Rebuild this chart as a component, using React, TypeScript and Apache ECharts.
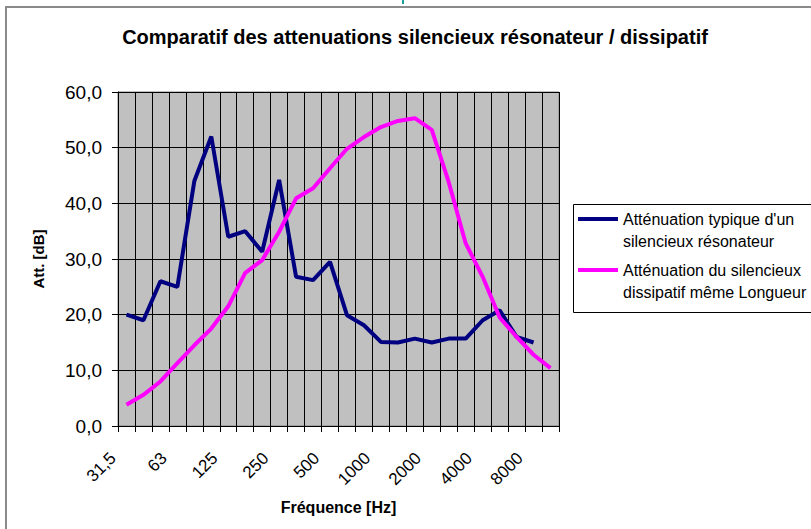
import React, { useEffect, useRef } from "react";
import * as echarts from "echarts";

const categories = [
  "31,5", "40", "50", "63", "80", "100", "125", "160", "200", "250", "315", "400", "500",
  "630", "800", "1000", "1250", "1600", "2000", "2500", "3150", "4000", "5000", "6300", "8000", "10000",
];
const resonateur = [
  20, 19, 26, 25, 44, 52, 34, 35, 31.3, 44.2, 26.8, 26.2, 29.5,
  19.9, 18.1, 15.1, 15, 15.7, 15, 15.7, 15.7, 19, 20.8, 16, 15, null,
];
const dissipatif = [
  3.8, 5.6, 8.0, 11.3, 14.5, 17.5, 21.5, 27.5, 29.8, 34.9, 40.9, 42.7, 46.3,
  49.8, 51.9, 53.7, 54.8, 55.3, 53.2, 43.8, 32.8, 26.8, 19.5, 16.0, 12.8, 10.4,
];
const seriesNames = [
  "Atténuation typique d'un\nsilencieux résonateur",
  "Atténuation du silencieux\ndissipatif même Longueur",
];
const titleText = "Comparatif des attenuations silencieux résonateur / dissipatif";

const FONT = "'Liberation Sans', Arial, sans-serif";

export default function App() {
  const ref = useRef<HTMLDivElement>(null);
  useEffect(() => {
    if (!ref.current) return;
    const chart = echarts.init(ref.current, null, { renderer: "svg" });
    chart.setOption({
      animation: false,
      backgroundColor: "#ffffff",
      title: {
        text: titleText,
        left: 415,
        textAlign: "center",
        top: 27,
        padding: 0,
        textStyle: { fontFamily: FONT, fontSize: 20, fontWeight: "bold", color: "#000" },
      },
      graphic: [
        {
          type: "rect",
          shape: { x: 6, y: 7, width: 820, height: 540 },
          style: { fill: "none", stroke: "#8a8a8a", lineWidth: 2 },
          silent: true,
        },
        {
          type: "rect",
          shape: { x: 402, y: 0, width: 2, height: 4 },
          style: { fill: "#1a9e9e" },
          silent: true,
        },
        {
          type: "rect",
          shape: { x: 573.5, y: 204.5, width: 250, height: 108 },
          style: { fill: "#ffffff", stroke: "#000", lineWidth: 1 },
          silent: true,
          z: 1,
        },
      ],
      legend: {
        orient: "vertical",
        left: 573,
        top: 182,
        padding: [4, 6, 10, 5],
        itemGap: -15,
        itemWidth: 40,
        itemHeight: 4,
        itemTextGap: 2,
        icon: "rect",
        z: 5,
        backgroundColor: "transparent",
        borderWidth: 0,
        formatter: (name: string) => "\n" + name,
        textStyle: {
          fontFamily: FONT,
          fontSize: 16,
          lineHeight: 22,
          color: "#000",
        },
        data: seriesNames,
      },
      grid: {
        left: 118,
        top: 92,
        width: 441,
        height: 334,
        show: true,
        backgroundColor: "#c0c0c0",
        borderColor: "#808080",
        borderWidth: 1,
      },
      xAxis: {
        type: "category",
        data: categories,
        boundaryGap: true,
        name: "Fréquence [Hz]",
        nameLocation: "middle",
        nameGap: 73,
        nameTextStyle: { fontFamily: FONT, fontSize: 16, fontWeight: "bold", color: "#000" },
        axisLine: { show: true, lineStyle: { color: "#000", width: 1 } },
        axisTick: { show: true, interval: 0, length: 6, inside: false, lineStyle: { color: "#000" } },
        axisLabel: {
          interval: 2,
          rotate: 45,
          margin: 16,
          padding: [0, 19, 0, 0],
          fontFamily: FONT,
          fontSize: 17,
          color: "#000",
        },
        splitLine: { show: true, interval: 0, lineStyle: { color: "#000", width: 1 } },
      },
      yAxis: {
        type: "value",
        min: 0,
        max: 60,
        interval: 10,
        name: "Att. [dB]",
        nameLocation: "middle",
        nameGap: 72,
        nameTextStyle: { fontFamily: FONT, fontSize: 15, fontWeight: "bold", color: "#000" },
        axisLine: { show: true, lineStyle: { color: "#000", width: 1 } },
        axisTick: { show: true, length: 6, inside: false, lineStyle: { color: "#000" } },
        axisLabel: {
          margin: 16,
          fontFamily: FONT,
          fontSize: 19,
          color: "#000",
          formatter: (v: number) => v.toFixed(1).replace(".", ","),
        },
        splitLine: { show: true, lineStyle: { color: "#000", width: 1 } },
      },
      series: [
        {
          name: seriesNames[0],
          type: "line",
          data: resonateur,
          symbol: "none",
          connectNulls: false,
          lineStyle: { color: "#000080", width: 4 },
          itemStyle: { color: "#000080" },
        },
        {
          name: seriesNames[1],
          type: "line",
          data: dissipatif,
          symbol: "none",
          lineStyle: { color: "#ff00ff", width: 4 },
          itemStyle: { color: "#ff00ff" },
        },
      ],
    });
    return () => chart.dispose();
  }, []);
  return (
    <div
      ref={ref}
      style={{ position: "fixed", left: 0, top: 0, width: 811, height: 529 }}
    />
  );
}
